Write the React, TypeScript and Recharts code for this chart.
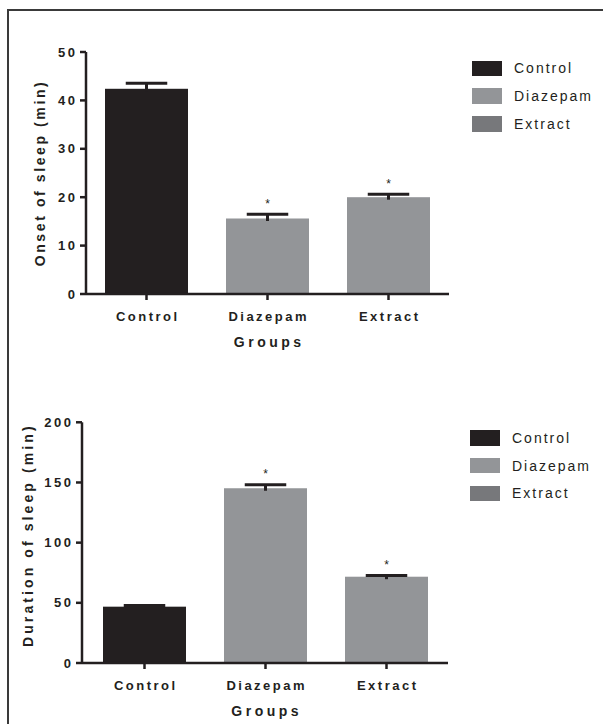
import React from 'react';
import { BarChart, Bar, XAxis, YAxis, Cell, Legend } from 'recharts';

// ---------- data ----------
const groups = ['Control', 'Diazepam', 'Extract'];
const onsetMeans = [42.4, 15.6, 20.0];
const onsetErrors = [1.15, 0.9, 0.6];
const durationMeans = [46.8, 145.2, 71.7];
const durationErrors = [1.0, 3.0, 1.0];
const significant = [false, true, true];
const onsetTicks = [0, 10, 20, 30, 40, 50];
const durationTicks = [0, 50, 100, 150, 200];
const xTitle = 'Groups';
const onsetTitle = 'Onset of sleep (min)';
const durationTitle = 'Duration of sleep (min)';

// ---------- styles ----------
const BAR_COLORS = ['#231f20', '#939598', '#939598'];
const LEGEND_COLORS = ['#231f20', '#939598', '#77787b'];
const INK = '#231f20';
const FONT = '"Liberation Sans", Arial, Helvetica, sans-serif';

const onsetData = groups.map((g, i) => ({
  group: g,
  value: onsetMeans[i],
  err: onsetErrors[i],
  sig: significant[i],
}));
const durationData = groups.map((g, i) => ({
  group: g,
  value: durationMeans[i],
  err: durationErrors[i],
  sig: significant[i],
}));

const BarWithError = (props: any) => {
  const { x, y, width, height, fill, payload, value } = props;
  const v = Array.isArray(value) ? value[1] - value[0] : value;
  const ppu = v ? height / v : 0;
  const errPx = payload.err * ppu;
  const cx = x + width / 2;
  const capY = y - errPx;
  return (
    <g>
      <rect x={x} y={y} width={width} height={height} fill={fill} />
      <line x1={cx} x2={cx} y1={capY} y2={y + 2.5} stroke={INK} strokeWidth={3} />
      <line x1={cx - 20.75} x2={cx + 20.75} y1={capY} y2={capY} stroke={INK} strokeWidth={3} />
      {payload.sig && (
        <text x={cx} y={capY - 6.5} textAnchor="middle" fontSize={12} fontFamily={FONT} fill={INK}>
          *
        </text>
      )}
    </g>
  );
};

const XTick = (props: any) => {
  const { x, y, payload } = props;
  return (
    <text
      x={x + 1.25}
      y={y}
      dy="0.71em"
      textAnchor="middle"
      fontFamily={FONT}
      fontSize={13}
      fontWeight="bold"
      fill={INK}
      style={{ letterSpacing: '2.5px' }}
    >
      {payload.value}
    </text>
  );
};

const YTick = (props: any) => {
  const { x, y, payload } = props;
  return (
    <text
      x={x}
      y={y}
      dy="0.355em"
      textAnchor="end"
      fontFamily={FONT}
      fontSize={13}
      fontWeight="bold"
      fill={INK}
      style={{ letterSpacing: '2.5px' }}
    >
      {payload.value}
    </text>
  );
};

const makeXLabel = (text: string, dy: number) => (props: any) => {
  const vb = props.viewBox || {};
  return (
    <text
      x={vb.x + vb.width / 2 + 1.75}
      y={vb.y + dy}
      textAnchor="middle"
      fontFamily={FONT}
      fontSize={14}
      fontWeight="bold"
      fill={INK}
      style={{ letterSpacing: '3.5px' }}
    >
      {text}
    </text>
  );
};

const makeYLabel = (text: string, fromAxis: number, shift: number, spacing: number) => (props: any) => {
  const vb = props.viewBox || {};
  const cx = vb.x + vb.width - fromAxis;
  const cy = vb.y + vb.height / 2 + shift;
  return (
    <text
      x={cx}
      y={cy}
      dy="0.35em"
      textAnchor="middle"
      transform={`rotate(-90, ${cx}, ${cy})`}
      fontFamily={FONT}
      fontSize={14}
      fontWeight="bold"
      fill={INK}
      style={{ letterSpacing: `${spacing}px` }}
    >
      {text}
    </text>
  );
};

const LegendContent = () => (
  <div style={{ fontFamily: FONT }}>
    {groups.map((g, i) => (
      <div key={g} style={{ display: 'flex', alignItems: 'center', height: 27.8 }}>
        <div style={{ width: 30, height: 15.5, background: LEGEND_COLORS[i] }} />
        <span
          style={{
            marginLeft: 12,
            fontSize: 14,
            letterSpacing: '2px',
            color: INK,
            lineHeight: 1,
            whiteSpace: 'nowrap',
          }}
        >
          {g}
        </span>
      </div>
    ))}
  </div>
);

type PanelProps = {
  data: any[];
  ticks: number[];
  yMax: number;
  yTitle: string;
  top: number;
  height: number;
  margin: { top: number; right: number; bottom: number; left: number };
  xAxisHeight: number;
  padding: { left: number; right: number };
  yTitleFromAxis: number;
  yTitleShift: number;
  yTitleSpacing: number;
  legendLeft: number;
  legendTop: number;
};

const Panel = (p: PanelProps) => (
  <div style={{ position: 'absolute', left: 0, top: p.top, width: 603, height: p.height }}>
    <BarChart width={603} height={p.height} data={p.data} margin={p.margin}>
      <XAxis
        dataKey="group"
        height={p.xAxisHeight}
        padding={p.padding}
        interval={0}
        axisLine={{ stroke: INK, strokeWidth: 2.5 }}
        tickLine={{ stroke: INK, strokeWidth: 2.5 }}
        tickSize={6}
        tickMargin={11.5}
        tick={<XTick />}
        label={makeXLabel(xTitle, 52.5)}
      />
      <YAxis
        width={56}
        domain={[0, p.yMax]}
        ticks={p.ticks}
        interval={0}
        allowDecimals={false}
        axisLine={{ stroke: INK, strokeWidth: 2.5 }}
        tickLine={{ stroke: INK, strokeWidth: 2.5 }}
        tickSize={6}
        tickMargin={2.5}
        tick={<YTick />}
        label={makeYLabel(p.yTitle, p.yTitleFromAxis, p.yTitleShift, p.yTitleSpacing)}
      />
      <Bar dataKey="value" barSize={83} isAnimationActive={false} shape={<BarWithError />}>
        {p.data.map((_, i) => (
          <Cell key={i} fill={BAR_COLORS[i]} />
        ))}
      </Bar>
      <Legend
        layout="vertical"
        align="center"
        verticalAlign="middle"
        content={LegendContent}
        wrapperStyle={{ position: 'absolute', left: p.legendLeft, top: p.legendTop, width: 131 }}
      />
    </BarChart>
  </div>
);

export default function App() {
  return (
    <div
      style={{
        position: 'absolute',
        left: 0,
        top: 0,
        width: 603,
        height: 724,
        overflow: 'hidden',
        background: '#ffffff',
      }}
    >
      <div
        style={{
          position: 'absolute',
          left: 7,
          top: 9,
          width: 700,
          height: 800,
          borderTop: '2px solid #3a3a3a',
          borderLeft: '2px solid #3a3a3a',
        }}
      />
      <Panel
        data={onsetData}
        ticks={onsetTicks}
        yMax={50}
        yTitle={onsetTitle}
        top={0}
        height={360}
        margin={{ top: 52, right: 154, bottom: 0, left: 30 }}
        xAxisHeight={66}
        padding={{ left: 0, right: 0 }}
        yTitleFromAxis={46}
        yTitleShift={0}
        yTitleSpacing={2.6}
        legendLeft={472}
        legendTop={54.4}
      />
      <Panel
        data={durationData}
        ticks={durationTicks}
        yMax={200}
        yTitle={durationTitle}
        top={370}
        height={354}
        margin={{ top: 52.3, right: 155, bottom: 0, left: 26 }}
        xAxisHeight={61}
        padding={{ left: 2, right: 1 }}
        yTitleFromAxis={54}
        yTitleShift={-7.5}
        yTitleSpacing={3.1}
        legendLeft={470}
        legendTop={53.9}
      />
    </div>
  );
}
